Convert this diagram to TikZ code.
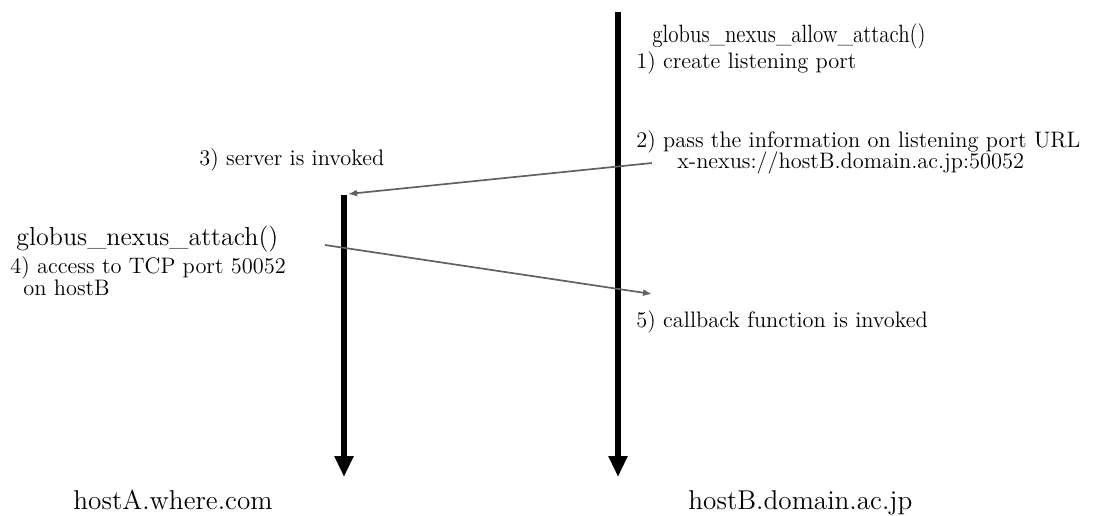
\documentclass[tikz,border=0pt]{standalone}
\usepackage{graphicx}
\usepackage{tikz}
\usetikzlibrary{arrows.meta}

\begin{document}
\begin{tikzpicture}[
  x=0.5pt,y=-0.5pt,
  life/.style={line width=3pt,-{Triangle[length=10.5pt,width=9pt]}},
  msg/.style={line width=0.85pt,draw=black!62,-{Latex[length=4.5pt,width=3.5pt]}},
  note/.style={anchor=base west,inner sep=0pt,font=\fontsize{11.2}{13}\selectfont},
  call/.style={anchor=base west,inner sep=0pt,font=\fontsize{13}{15}\selectfont},
  host/.style={anchor=base west,inner sep=0pt,font=\fontsize{13.6}{16}\selectfont}
]
\useasboundingbox (0,0) rectangle (1094,515);
% lifelines of the two hosts
\coordinate (Atop) at (344,195);
\coordinate (Aend) at (344,477);
\coordinate (Btop) at (618,12);
\coordinate (Bend) at (618,477);
\draw[life] (Atop) -- (Aend);
\draw[life] (Btop) -- (Bend);
% messages
\coordinate (urlout) at (652,163);
\coordinate (urlin) at (348,194);
\coordinate (tcpout) at (325,245);
\coordinate (tcpin) at (652,294);
\draw[msg] (urlout) -- (urlin);
\draw[msg] (tcpout) -- (tcpin);
% host B side
\node[call,font=\fontsize{12.5}{14}\selectfont] (allow) at (652,42)
  {\scalebox{0.84}[1]{globus\_nexus\_allow\_attach()}};
\node[note] (listen) at (636,68) {1) create listening port};
\node[note] (pass) at (636,147) {2) pass the information on listening port URL};
\node[note] (url) at (677,168) {x-nexus://hostB.domain.ac.jp:50052};
\node[note] (callback) at (636,327) {5) callback function is invoked};
% host A side
\node[note] (server) at (199,165) {3) server is invoked};
\node[call] (attach) at (16,245) {globus\_nexus\_attach()};
\node[note] (access) at (10,273) {4) access to TCP port 50052};
\node[note] (onhost) at (23,295) {on hostB};
% host names
\node[host] (hosta) at (73,509) {hostA.where.com};
\node[host] (hostb) at (688,509) {hostB.domain.ac.jp};
\end{tikzpicture}
\end{document}
